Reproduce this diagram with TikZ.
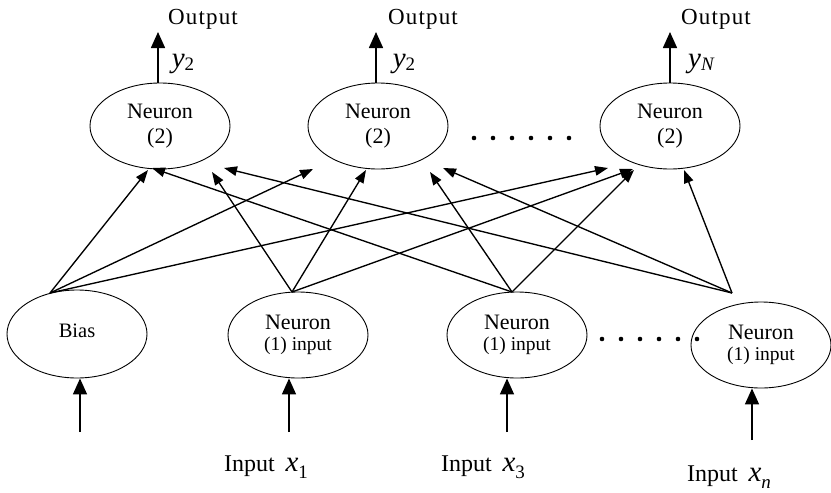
\documentclass[tikz,border=0pt]{standalone}
\usepackage{fontspec}
\setmainfont{Liberation Serif}
\usetikzlibrary{arrows.meta,shapes.geometric}
\newcommand\myfA{\fontsize{22}{25}\selectfont}
\newcommand\myfB{\fontsize{19.5}{21}\selectfont}
\newcommand\myvar[2]{{\fontsize{29}{29}\selectfont\itshape #1}\raisebox{-0.28em}{\fontsize{19}{19}\selectfont #2}}
\begin{document}
\begin{tikzpicture}[x=1pt,y=-1pt,
  neuron/.style={draw, line width=0.9pt, ellipse, minimum width=140pt, minimum height=86pt, inner sep=0pt, align=center, font=\myfA},
  edge/.style={line width=1.35pt, -{Triangle[length=13pt,width=9.5pt]}},
  ioarrow/.style={line width=1.6pt, -{Triangle[length=16pt,width=14pt]}},
  lbl/.style={inner sep=0pt, anchor=center},
  dot/.style={fill=black}]
\path[use as bounding box] (0,0) rectangle (831,493);

% output layer
\node[neuron] (t1) at (160,126) {Neuron\\(2)};
\node[neuron] (t2) at (378,126) {Neuron\\(2)};
\node[neuron] (t3) at (670,126) {Neuron\\(2)};

% input layer
\node[neuron, minimum height=88pt] (b0) at (77,334) {\fontsize{20.5}{21}\selectfont\raisebox{7pt}{Bias}};
\node[neuron] (b1) at (298,335) {Neuron\\[-4pt]\myfB (1) input};
\node[neuron] (b3) at (517,335) {Neuron\\[-4pt]\myfB (1) input};
\node[neuron] (bn) at (761,345) {Neuron\\[-4pt]\myfB (1) input};

% output labels
\node[lbl] (o1) at (203,19) {\fontsize{23}{25}\selectfont\addfontfeature{LetterSpace=5}Output};
\node[lbl] (o2) at (423,19) {\fontsize{23}{25}\selectfont\addfontfeature{LetterSpace=5}Output};
\node[lbl] (o3) at (716,19) {\fontsize{23}{25}\selectfont\addfontfeature{LetterSpace=5}Output};
\node[lbl] (y1) at (183,64) {\myvar{y}{2}};
\node[lbl] (y2) at (404,64) {\myvar{y}{2}};
\node[lbl] (y3) at (701,64) {\myvar{y}{\itshape N}};

\coordinate (a1) at (158,32);
\coordinate (a2) at (376,32);
\coordinate (a3) at (670,32);
\draw[ioarrow] (t1.north -| a1) -- (a1);
\draw[ioarrow] (t2.north -| a2) -- (a2);
\draw[ioarrow] (t3.north -| a3) -- (a3);

% input arrows
\coordinate (i0) at (80,432);
\coordinate (i1) at (289,432);
\coordinate (i3) at (507,432);
\coordinate (in) at (752,440);
\draw[ioarrow] (i0) -- (i0 |- b0.south);
\draw[ioarrow] (i1) -- (i1 |- b1.south);
\draw[ioarrow] (i3) -- (i3 |- b3.south);
\draw[ioarrow] (in) -- (in |- bn.south);

\node[lbl] (l1) at (266,467) {\fontsize{24}{24}\selectfont Input\hspace{0.45em}\myvar{x}{1}};
\node[lbl] (l3) at (483,467) {\fontsize{24}{24}\selectfont Input\hspace{0.45em}\myvar{x}{3}};
\node[lbl] (ln) at (729,477) {\fontsize{24}{24}\selectfont Input\hspace{0.45em}\myvar{x}{\itshape n}};

% fan origins
\coordinate (s0) at (50,293);
\coordinate (s1) at (292,292);
\coordinate (s3) at (512,292);
\coordinate (sn) at (732,293);

% arrow tips at output layer
\coordinate (p10) at (148,170);
\coordinate (p13) at (152,168);
\coordinate (p11) at (212,172);
\coordinate (p1n) at (224,168);
\coordinate (p20) at (313,169);
\coordinate (p21) at (366,170);
\coordinate (p23) at (430,172);
\coordinate (p2n) at (443,168);
\coordinate (p30) at (608,168);
\coordinate (p31) at (633,169);
\coordinate (p33) at (634,170);
\coordinate (p3n) at (684,170);

\draw[edge] (s0) -- (p10);
\draw[edge] (s0) -- (p20);
\draw[edge] (s0) -- (p30);
\draw[edge] (s1) -- (p11);
\draw[edge] (s1) -- (p21);
\draw[edge] (s1) -- (p31);
\draw[edge] (s3) -- (p13);
\draw[edge] (s3) -- (p23);
\draw[edge] (s3) -- (p33);
\draw[edge] (sn) -- (p1n);
\draw[edge] (sn) -- (p2n);
\draw[edge] (sn) -- (p3n);

% dots
\foreach \i in {0,...,5} \fill[dot] ({474+19*\i},138) circle (2.3);
\foreach \i in {0,...,5} \fill[dot] ({602+19*\i},339) circle (2.3);
\end{tikzpicture}
\end{document}
